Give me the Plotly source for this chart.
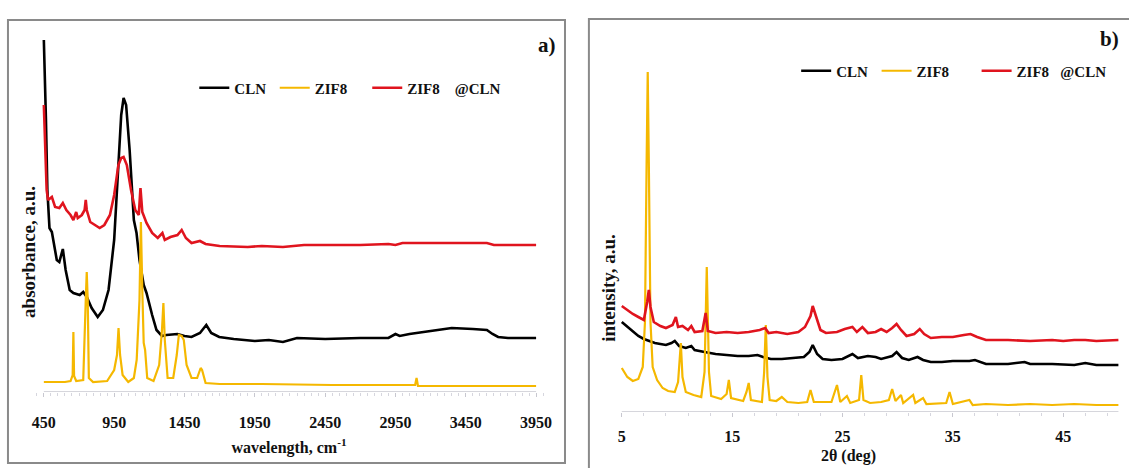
import plotly.graph_objects as go

# ---------------- Panel a: FTIR ----------------
ftir_cln_x = [450, 455, 465, 475, 490, 507, 525, 542, 560, 585, 605, 634, 660, 705, 730, 755, 790, 833, 870, 910,
              950, 980, 1000, 1017, 1035, 1060, 1090, 1109, 1130, 1160, 1180, 1220, 1251, 1290, 1321, 1400, 1450,
              1500, 1560, 1605, 1640, 1697, 1800, 1950, 2050, 2150, 2250, 2450, 2700, 2900, 2950, 2980, 3050,
              3200, 3350, 3500, 3600, 3640, 3680, 3750, 3950]
ftir_cln_y = [3.52, 3.32, 2.72, 2.02, 1.64, 1.60, 1.47, 1.32, 1.30, 1.43, 1.22, 1.02, 0.99, 0.97, 1.00, 0.95, 0.84,
              0.75, 0.82, 1.02, 1.52, 2.32, 2.77, 2.94, 2.87, 2.42, 1.72, 1.59, 1.32, 1.07, 0.99, 0.77, 0.62, 0.56,
              0.57, 0.58, 0.56, 0.55, 0.59, 0.67, 0.59, 0.55, 0.53, 0.51, 0.52, 0.50, 0.54, 0.53, 0.54, 0.54, 0.58,
              0.56, 0.58, 0.61, 0.64, 0.63, 0.62, 0.58, 0.55, 0.54, 0.54]

ftir_zif_x = [450, 600, 640, 655, 660, 665, 680, 730, 748, 755, 762, 770, 800, 900, 950, 970, 981, 992, 1010, 1050,
              1090, 1110, 1130, 1140, 1150, 1160, 1170, 1185, 1230, 1270, 1290, 1300, 1310, 1330, 1370, 1395, 1410,
              1430, 1445, 1465, 1500, 1540, 1565, 1575, 1600, 1700, 2000, 2500, 3000, 3090, 3100, 3110, 3500, 3950]
ftir_zif_y = [0.10, 0.10, 0.11, 0.17, 0.60, 0.16, 0.11, 0.12, 0.92, 1.20, 0.92, 0.14, 0.10, 0.11, 0.22, 0.37, 0.64,
              0.37, 0.17, 0.10, 0.14, 0.32, 0.92, 1.70, 1.02, 0.49, 0.42, 0.14, 0.11, 0.27, 0.62, 0.89, 0.52, 0.14,
              0.14, 0.37, 0.57, 0.56, 0.52, 0.27, 0.14, 0.14, 0.24, 0.22, 0.09, 0.08, 0.08, 0.07, 0.07, 0.07, 0.14,
              0.06, 0.06, 0.06]

ftir_comp_x = [450, 455, 462, 470, 480, 507, 530, 560, 585, 610, 640, 660, 680, 691, 720, 740, 748, 755, 780, 800,
               847, 880, 920, 950, 980, 1000, 1017, 1040, 1070, 1100, 1125, 1137, 1150, 1180, 1220, 1260, 1293,
               1310, 1350, 1400, 1430, 1460, 1500, 1560, 1600, 1700, 1900, 2000, 2150, 2300, 2700, 2900, 2950,
               3000, 3600, 3650, 3950]
ftir_comp_y = [2.87, 2.67, 2.32, 2.02, 1.92, 1.95, 1.85, 1.84, 1.89, 1.82, 1.77, 1.72, 1.80, 1.74, 1.77, 1.82, 1.92,
               1.82, 1.70, 1.68, 1.64, 1.67, 1.77, 1.97, 2.27, 2.34, 2.35, 2.27, 2.02, 1.82, 1.77, 2.04, 1.80, 1.69,
               1.59, 1.54, 1.59, 1.52, 1.55, 1.57, 1.62, 1.54, 1.49, 1.51, 1.48, 1.46, 1.45, 1.46, 1.45, 1.47, 1.47,
               1.48, 1.47, 1.49, 1.49, 1.47, 1.47]

ftir_ticks = [450, 950, 1450, 1950, 2450, 2950, 3450, 3950]

# ---------------- Panel b: XRD ----------------
xrd_comp_x = [5.0, 5.5, 6.0, 6.5, 7.0, 7.3, 7.45, 7.6, 7.9, 8.5, 9.0, 9.6, 9.9, 10.1, 10.5, 11.0, 11.3, 11.6, 12.3,
              12.6, 12.8, 13.5, 14.5, 15.5, 16.5, 17.5, 18.0, 18.3, 19.0, 20.0, 21.0, 21.6, 22.1, 22.3, 22.6, 23.0,
              23.5, 24.5, 25.2, 25.9, 26.3, 26.8, 27.3, 28.0, 28.5, 29.0, 29.5, 29.9, 30.3, 30.8, 31.5, 32.0, 32.4,
              33.0, 34.0, 35.0, 36.0, 36.6, 37.2, 38.0, 40.0, 42.0, 44.0, 45.0, 46.0, 47.0, 48.0, 50.0]
xrd_comp_y = [1.06, 1.02, 0.98, 0.95, 0.92, 1.10, 1.22, 1.05, 0.90, 0.86, 0.84, 0.87, 0.95, 0.85, 0.86, 0.82, 0.86,
              0.80, 0.81, 0.99, 0.81, 0.79, 0.80, 0.79, 0.80, 0.82, 0.84, 0.79, 0.80, 0.78, 0.80, 0.85, 0.96, 1.06,
              0.95, 0.82, 0.79, 0.80, 0.83, 0.85, 0.80, 0.85, 0.79, 0.80, 0.83, 0.80, 0.84, 0.88, 0.82, 0.76, 0.78,
              0.83, 0.78, 0.74, 0.75, 0.75, 0.77, 0.78, 0.75, 0.72, 0.72, 0.71, 0.72, 0.71, 0.72, 0.72, 0.71, 0.72]

xrd_cln_x = [5.0, 5.5, 6.0, 6.5, 7.0, 7.5, 8.0, 8.5, 9.0, 9.5, 9.8, 10.2, 10.8, 11.3, 11.6, 12.5, 13.5, 14.5, 15.5,
             16.5, 17.3, 17.8, 18.5, 19.5, 20.5, 21.5, 22.0, 22.3, 22.7, 23.2, 24.0, 25.0, 25.9, 26.4, 27.3, 28.0,
             28.5, 29.5, 29.9, 30.4, 31.0, 31.8, 32.3, 33.0, 34.0, 35.0, 36.5, 37.0, 38.0, 40.0, 41.5, 42.0, 44.0,
             46.0, 47.0, 48.0, 50.0]
xrd_cln_y = [0.90, 0.85, 0.80, 0.76, 0.73, 0.71, 0.69, 0.68, 0.67, 0.69, 0.71, 0.66, 0.64, 0.66, 0.62, 0.60, 0.58,
             0.57, 0.56, 0.56, 0.57, 0.55, 0.53, 0.53, 0.54, 0.55, 0.60, 0.67, 0.58, 0.53, 0.52, 0.53, 0.58, 0.54,
             0.56, 0.55, 0.53, 0.56, 0.60, 0.54, 0.52, 0.55, 0.52, 0.50, 0.50, 0.51, 0.51, 0.52, 0.48, 0.48, 0.50,
             0.48, 0.48, 0.47, 0.49, 0.47, 0.47]

xrd_zif_x = [5.0, 5.5, 6.0, 6.5, 6.9, 7.1, 7.25, 7.35, 7.45, 7.6, 7.8, 8.2, 8.7, 9.2, 9.8, 10.1, 10.35, 10.5, 10.8,
             11.5, 12.2, 12.5, 12.7, 12.9, 13.1, 14.0, 14.5, 14.7, 14.9, 16.0, 16.3, 16.5, 16.7, 17.7, 17.9, 18.05,
             18.2, 18.4, 19.0, 19.5, 20.0, 21.0, 21.8, 22.1, 22.4, 24.0, 24.5, 24.8, 25.4, 25.7, 26.5, 26.7, 26.9,
             27.5, 28.5, 29.2, 29.5, 29.8, 30.3, 30.5, 31.4, 31.6, 32.3, 32.6, 34.4, 34.7, 35.0, 36.5, 36.8, 38.0,
             40.0, 42.0, 44.0, 46.0, 48.0, 50.0]
xrd_zif_y = [0.44, 0.35, 0.31, 0.33, 0.45, 0.90, 2.50, 3.40, 2.50, 0.90, 0.45, 0.32, 0.24, 0.21, 0.20, 0.30, 0.69,
             0.35, 0.20, 0.17, 0.15, 0.40, 1.45, 0.40, 0.16, 0.13, 0.18, 0.32, 0.14, 0.11, 0.20, 0.29, 0.12, 0.10,
             0.40, 0.87, 0.35, 0.12, 0.11, 0.15, 0.10, 0.09, 0.10, 0.22, 0.10, 0.10, 0.27, 0.10, 0.16, 0.09, 0.12,
             0.37, 0.12, 0.09, 0.10, 0.12, 0.23, 0.11, 0.17, 0.09, 0.17, 0.09, 0.14, 0.08, 0.09, 0.20, 0.08, 0.12,
             0.07, 0.08, 0.07, 0.08, 0.07, 0.08, 0.07, 0.07]

xrd_ticks = [5, 15, 25, 35, 45]

NB = "\u00a0"
names_a = ["CLN" + NB, "ZIF8" + NB * 4, "ZIF8" + NB * 4 + "@CLN"]
names_b = ["CLN" + NB, "ZIF8" + NB * 6, "ZIF8" + NB * 3 + "@CLN"]

BLACK = "#000000"
GOLD = "#F5B800"
RED = "#E0141E"
FONT = "Liberation Serif"

W, H = 1129, 468


def fx(px):
    return px / W


def fy(py):
    return (H - py) / H


fig = go.Figure()

# panel a traces
fig.add_trace(go.Scatter(x=ftir_cln_x, y=ftir_cln_y, mode="lines", name=names_a[0],
                         line=dict(color=BLACK, width=2.6), xaxis="x", yaxis="y", legend="legend"))
fig.add_trace(go.Scatter(x=ftir_zif_x, y=ftir_zif_y, mode="lines", name=names_a[1],
                         line=dict(color=GOLD, width=2.2), xaxis="x", yaxis="y", legend="legend"))
fig.add_trace(go.Scatter(x=ftir_comp_x, y=ftir_comp_y, mode="lines", name=names_a[2],
                         line=dict(color=RED, width=2.6), xaxis="x", yaxis="y", legend="legend"))

# panel b traces
fig.add_trace(go.Scatter(x=xrd_cln_x, y=xrd_cln_y, mode="lines", name=names_b[0],
                         line=dict(color=BLACK, width=2.6), xaxis="x2", yaxis="y2", legend="legend2"))
fig.add_trace(go.Scatter(x=xrd_zif_x, y=xrd_zif_y, mode="lines", name=names_b[1],
                         line=dict(color=GOLD, width=2.2), xaxis="x2", yaxis="y2", legend="legend2"))
fig.add_trace(go.Scatter(x=xrd_comp_x, y=xrd_comp_y, mode="lines", name=names_b[2],
                         line=dict(color=RED, width=2.6), xaxis="x2", yaxis="y2", legend="legend2"))

tickfont = dict(family=FONT, size=16, color="#111111", weight="bold")
hidden_y = dict(showticklabels=False, showgrid=False, zeroline=False, showline=False, ticks="")

fig.update_layout(
    width=W, height=H,
    margin=dict(l=0, r=0, t=0, b=0),
    paper_bgcolor="white", plot_bgcolor="white",
    font=dict(family=FONT, color="#111111"),
    xaxis=dict(domain=[fx(30), fx(550)], range=[350.8, 4035.0], tickvals=ftir_ticks,
               showgrid=False, zeroline=False, showline=False,
               ticks="outside", ticklen=4, tickcolor="#C8C8D0", tickwidth=1,
               minor=dict(dtick=50, tick0=450, ticks="outside", ticklen=3, tickcolor="#D6D6DE"),
               tickfont=tickfont, ticklabelstandoff=12,
               title=dict(text="wavelength, cm<sup>-1</sup>", standoff=11,
                          font=dict(family=FONT, size=16, color="#111111", weight="bold"))),
    yaxis=dict(domain=[fy(392), fy(30)], range=[0, 3.62], **hidden_y),
    xaxis2=dict(domain=[fx(609), 1.0], range=[3.646, 50.598], tickvals=xrd_ticks,
                showgrid=False, zeroline=False, showline=False,
                ticks="outside", ticklen=4, tickcolor="#C8C8D0", tickwidth=1,
                minor=dict(dtick=2, tick0=5, ticks="outside", ticklen=3, tickcolor="#D6D6DE"),
                tickfont=tickfont, ticklabelstandoff=6, anchor="y2"),
    yaxis2=dict(domain=[fy(412), fy(55)], range=[0, 3.57], anchor="x2", **hidden_y),
    legend=dict(orientation="h", x=fx(195), y=fy(88), xanchor="left", yanchor="middle",
                bgcolor="rgba(0,0,0,0)", font=dict(family=FONT, size=15, color="#111111", weight="bold"),
                itemwidth=30, tracegroupgap=0),
    legend2=dict(orientation="h", x=fx(799), y=fy(71), xanchor="left", yanchor="middle",
                 bgcolor="rgba(0,0,0,0)", font=dict(family=FONT, size=15, color="#111111", weight="bold"),
                 itemwidth=30, tracegroupgap=0),
    showlegend=True,
)

shapes = [
    # panel frames
    dict(type="rect", xref="paper", yref="paper", x0=fx(8), x1=fx(567), y0=fy(463), y1=fy(20),
         line=dict(color="#8A8A8A", width=2), fillcolor="rgba(0,0,0,0)", layer="below"),
    dict(type="rect", xref="paper", yref="paper", x0=fx(591), x1=1.02, y0=-0.05, y1=fy(19),
         line=dict(color="#8A8A8A", width=2), fillcolor="rgba(0,0,0,0)", layer="below"),
    # category axis lines
    dict(type="line", xref="x", yref="y", x0=ftir_ticks[0], x1=ftir_ticks[-1], y0=0, y1=0,
         line=dict(color="#C8C8D0", width=1.5), layer="below"),
    dict(type="line", xref="x2", yref="y2", x0=5, x1=50, y0=0, y1=0,
         line=dict(color="#C8C8D0", width=1.5), layer="below"),
]
fig.update_layout(shapes=shapes)

ann_font = dict(family=FONT, size=19, color="#111111", weight="bold")
fig.update_layout(annotations=[
    dict(text="absorbance, a.u.", xref="paper", yref="paper", x=fx(28), y=fy(252),
         textangle=-90, showarrow=False, font=ann_font, xanchor="center", yanchor="middle"),
    dict(text="intensity, a.u.", xref="paper", yref="paper", x=fx(610), y=fy(288),
         textangle=-90, showarrow=False, font=ann_font, xanchor="center", yanchor="middle"),
    dict(text="2θ (deg)", xref="paper", yref="paper", x=fx(852), y=fy(456),
         showarrow=False, font=dict(family=FONT, size=16, color="#111111", weight="bold"),
         xanchor="center", yanchor="middle"),
    dict(text="a)", xref="paper", yref="paper", x=fx(549), y=fy(45),
         showarrow=False, font=dict(family=FONT, size=21, color="#111111", weight="bold"),
         xanchor="center", yanchor="middle"),
    dict(text="b)", xref="paper", yref="paper", x=fx(1113), y=fy(39),
         showarrow=False, font=dict(family=FONT, size=21, color="#111111", weight="bold"),
         xanchor="center", yanchor="middle"),
])

fig.write_html("out.html", config={"displayModeBar": False},
               post_script="document.body.style.margin='0';document.body.style.overflow='hidden';")
